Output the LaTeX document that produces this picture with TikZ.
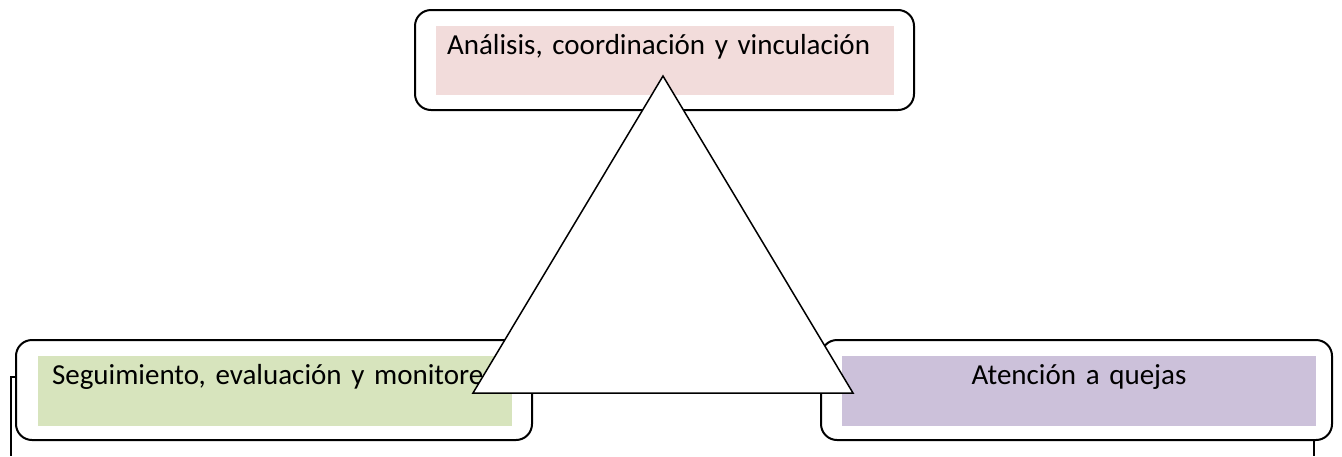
\documentclass[tikz,border=0pt]{standalone}
\usepackage{fontspec}
\setmainfont{Carlito}
\usetikzlibrary{positioning}

\definecolor{rosa}{HTML}{F2DCDB}
\definecolor{verde}{HTML}{D7E4BD}
\definecolor{lila}{HTML}{CCC1DA}

\begin{document}
\begin{tikzpicture}
  [
  x = 0.5pt, y = -0.5pt,
  % marco
  marco/.style = {rectangle,
    rounded corners = 8pt,
    draw, line width = 1pt,
    minimum height = 50pt},
  % relleno
  relleno/.style = {rectangle,
    inner sep = 0pt, inner xsep = 5.5pt,
    text height = 14pt,
    font = \fontsize{14.5pt}{17pt}\selectfont},
  % line
  line/.style = {draw, line width = 1pt},
  % triangulo
  tri/.style = {draw, fill = white, line width = 0.75pt, line join = miter},
  ]

  \useasboundingbox (0,0) rectangle (1342,456);

  % nodes
  \node [marco, minimum width = 249.5pt] (mana) at (664.5,60) {};
  \node [marco, minimum width = 258pt] (mseg) at (274,390) {};
  \node [marco, minimum width = 255.5pt] (mate) at (1076.5,390) {};

  \node [relleno, fill = rosa, text depth = 20.5pt, text width = 218pt,
    align = left] (ana) at (665,60.5) {\mbox{Análisis, coordinación y vinculación}};
  \node [relleno, fill = verde, text depth = 21pt, text width = 223pt,
    inner xsep = 7pt, align = left] (seg) at (275,391)
    {\mbox{Seguimiento, evaluación y monitoreo}};
  \node [relleno, fill = lila, text depth = 21pt, text width = 226pt,
    align = center] (ate) at (1079,391) {Atención a quejas};

  % coordinates
  \coordinate (sl) at (11,456);
  \coordinate (sr) at (1314,456);
  \coordinate (cima) at (663,76);
  \coordinate (bizq) at (473,393);
  \coordinate (bder) at (853,393);

  % path
  \path [line] ([yshift=6.5pt]mseg.west) -| (sl);
  \path [line] (sr |- mate.south) -- (sr);

  \path [tri] (cima) -- (bizq) -- (bder) -- cycle;

\end{tikzpicture}
\end{document}
